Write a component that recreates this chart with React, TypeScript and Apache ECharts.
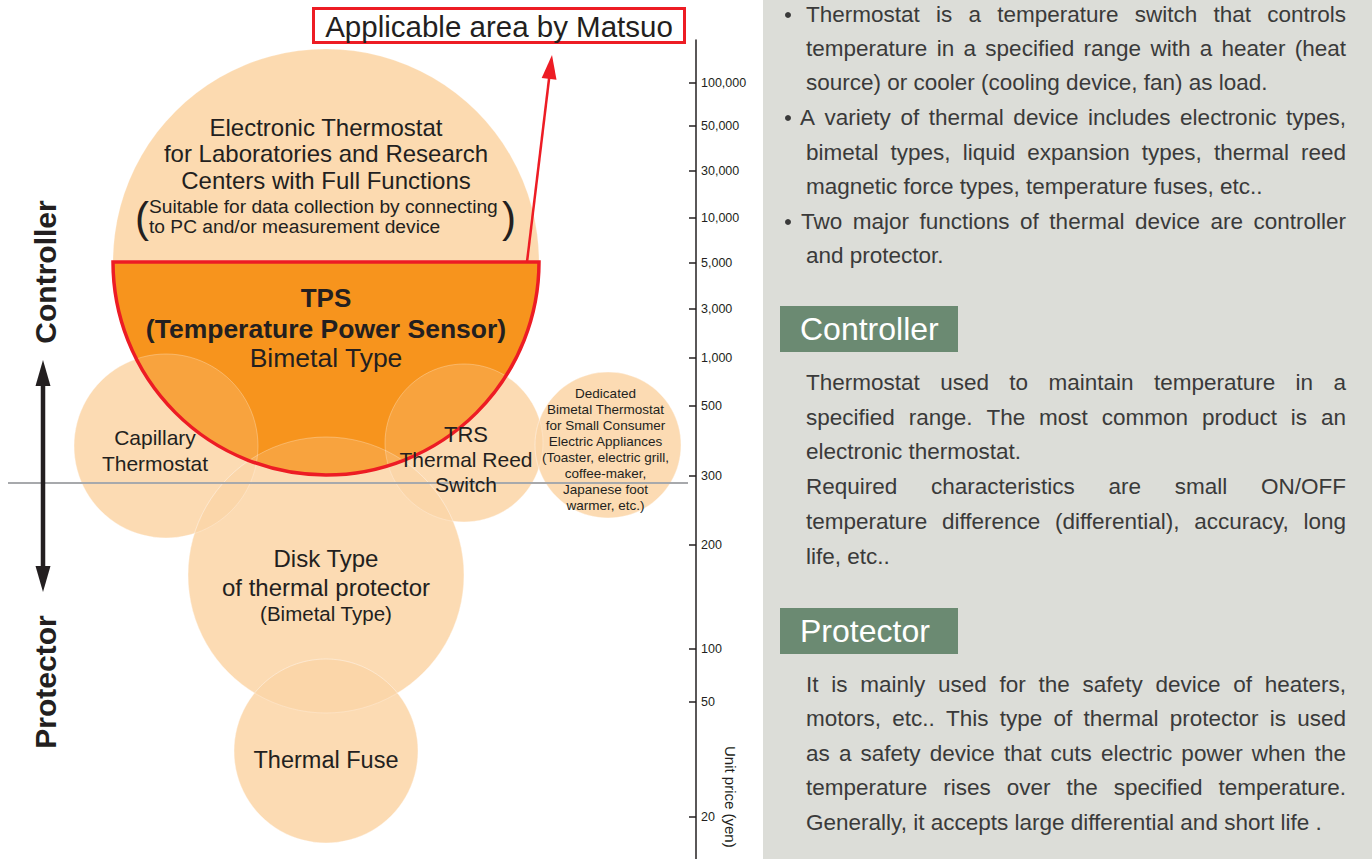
import React, { useEffect, useRef } from 'react';
import * as echarts from 'echarts';

// ---------- Data ----------
// schematic unit-price scale (levels are positions on the chart's price scale)
const priceTickLabels = ['100,000', '50,000', '30,000', '10,000', '5,000', '3,000', '1,000', '500', '300', '200', '100', '50', '20'];
const priceTickLevels = [776, 733, 688, 641, 596, 550, 501, 453, 383, 314, 210, 157, 42];

// device bubbles: horizontal category position, price level, radius (in scale units)
const bubbleNames = ['Electronic Thermostat', 'Capillary Thermostat', 'TRS', 'Dedicated Bimetal Thermostat', 'Disk Type', 'Thermal Fuse'];
const bubbleX = [326, 166, 464, 608, 326, 326];
const bubbleLevel = [597, 413, 416, 414, 284, 108];
const bubbleRadius = [213, 92, 79, 73, 138, 92];

// TPS (applicable area) – lower half of the electronic thermostat bubble
const tpsX = [326];
const tpsLevel = [597];
const tpsRadius = [213];

const introBullets = [
  ['Thermostat is a temperature switch that controls', 'temperature in a specified range with a heater (heat', 'source) or cooler (cooling device, fan) as load.'],
  ['A variety of thermal device includes electronic types,', 'bimetal types, liquid expansion types, thermal reed', 'magnetic force types, temperature fuses, etc..'],
  ['Two major functions of thermal device are controller', 'and protector.'],
];
const controllerLines = [
  'Thermostat used to maintain temperature in a',
  'specified range. The most common product is an',
  'electronic thermostat.',
  'Required characteristics are small ON/OFF',
  'temperature difference (differential), accuracy, long',
  'life, etc..',
];
const controllerJustify = [true, true, false, true, true, false];
const protectorLines = [
  'It is mainly used for the safety device of heaters,',
  'motors, etc.. This type of thermal protector is used',
  'as a safety device that cuts electric power when the',
  'temperature rises over the specified temperature.',
  'Generally, it accepts large differential and short life .',
];
const protectorJustify = [true, true, true, true, false];

// ---------- Styles ----------
const FONT = '"Liberation Sans", Arial, Helvetica, sans-serif';
const DARK = '#231f20';
const PANEL_TEXT = '#3a3a3a';
const PANEL_SIZE = 22.5;

let measureCtx: CanvasRenderingContext2D | null = null;
function measure(text: string, font: string) {
  if (!measureCtx) measureCtx = document.createElement('canvas').getContext('2d');
  measureCtx!.font = font;
  return measureCtx!.measureText(text).width;
}

function T(text: string, x: number, y: number, size: number, opts: any = {}) {
  const align = opts.align || 'center';
  return {
    type: 'text',
    x,
    y,
    z: 20,
    rotation: opts.rotation || 0,
    scaleX: opts.scaleX || 1,
    style: {
      text,
      x: 0,
      y: 0,
      font: `${opts.weight || 'normal'} ${size}px ${opts.family || FONT}`,
      fill: opts.fill || DARK,
      textAlign: align,
      align,
      textVerticalAlign: 'middle',
      verticalAlign: 'middle',
    },
  };
}

function panelLine(text: string, x0: number, x1: number, y: number, justify: boolean) {
  const font = `normal ${PANEL_SIZE}px ${FONT}`;
  const avail = x1 - x0;
  const natural = measure(text, font);
  const words = text.split(' ');
  if (!justify || words.length < 2) {
    const s = natural > avail ? avail / natural : 1;
    return [T(text, x0, y, PANEL_SIZE, { align: 'left', fill: PANEL_TEXT, scaleX: s })];
  }
  const ws = words.map((w) => measure(w, font));
  const sum = ws.reduce((a, b) => a + b, 0);
  const gap = (avail - sum) / (words.length - 1);
  const spaceW = measure(' ', font);
  if (gap < spaceW * 0.7) {
    return [T(text, x0, y, PANEL_SIZE, { align: 'left', fill: PANEL_TEXT, scaleX: avail / natural })];
  }
  const out: any[] = [];
  let cx = x0;
  words.forEach((w, i) => {
    out.push(T(w, cx, y, PANEL_SIZE, { align: 'left', fill: PANEL_TEXT }));
    cx += ws[i] + gap;
  });
  return out;
}

function buildOption() {
  const bubbleData = bubbleX.map((x, i) => ({ name: bubbleNames[i], value: [x, bubbleLevel[i], bubbleRadius[i]] }));
  const overlayData = bubbleData.slice(1);
  const tpsData = tpsX.map((x, i) => [x, tpsLevel[i], tpsRadius[i]]);

  const circleItem = (fill: string, stroke: string) => (params: any, api: any) => {
    const c = api.coord([api.value(0), api.value(1)]);
    const r = api.size([api.value(2), 0])[0];
    return { type: 'circle', shape: { cx: c[0], cy: c[1], r }, style: { fill, stroke, lineWidth: 0.8 } };
  };
  const halfItem = (style: any) => (params: any, api: any) => {
    const c = api.coord([api.value(0), api.value(1)]);
    const r = api.size([api.value(2), 0])[0];
    return {
      type: 'sector',
      shape: { cx: c[0], cy: c[1], r0: 0, r, startAngle: 0, endAngle: Math.PI, clockwise: true },
      style,
    };
  };

  const graphics: any[] = [];

  // right panel background
  graphics.push({ type: 'rect', z: 0, shape: { x: 763, y: 0, width: 609, height: 859 }, style: { fill: '#dcddd8' } });

  // intro bullets
  const bulletYs = [[14, 48, 82], [117, 152, 186], [221, 255]];
  const firstX = [806, 800, 801];
  introBullets.forEach((lines, b) => {
    graphics.push({ type: 'circle', z: 20, shape: { cx: 788, cy: bulletYs[b][0] + 1, r: 3 }, style: { fill: PANEL_TEXT } });
    lines.forEach((ln, i) => {
      const last = i === lines.length - 1;
      graphics.push(...panelLine(ln, i === 0 ? firstX[b] : 806, 1346, bulletYs[b][i], !last));
    });
  });

  // section headers
  graphics.push({ type: 'rect', z: 5, shape: { x: 780, y: 306, width: 178, height: 46 }, style: { fill: '#6b8a72' } });
  graphics.push(T('Controller', 800, 329, 32, { align: 'left', fill: '#ffffff' }));
  graphics.push({ type: 'rect', z: 5, shape: { x: 780, y: 608, width: 178, height: 46 }, style: { fill: '#6b8a72' } });
  graphics.push(T('Protector', 800, 631, 32, { align: 'left', fill: '#ffffff' }));

  const ctrlYs = [382, 417, 451, 486, 521, 556];
  controllerLines.forEach((ln, i) => graphics.push(...panelLine(ln, 806, 1346, ctrlYs[i], controllerJustify[i])));
  const protYs = [684, 718, 753, 787, 822];
  protectorLines.forEach((ln, i) => graphics.push(...panelLine(ln, 806, 1346, protYs[i], protectorJustify[i])));

  // divider line (controller / protector)
  graphics.push({ type: 'line', z: 10, shape: { x1: 8, y1: 483, x2: 688, y2: 483 }, style: { stroke: '#a7a9ac', lineWidth: 2 } });

  // title box + arrow
  graphics.push({ type: 'rect', z: 10, shape: { x: 313.5, y: 8.5, width: 371, height: 34 }, style: { fill: '#ffffff', stroke: '#ed1c24', lineWidth: 3 } });
  graphics.push(T('Applicable area by Matsuo', 499, 26, 29.5));
  graphics.push({ type: 'line', z: 10, shape: { x1: 527, y1: 262, x2: 549.5, y2: 75 }, style: { stroke: '#ed1c24', lineWidth: 2.5 } });
  graphics.push({ type: 'polygon', z: 10, shape: { points: [[552, 55], [556.5, 79.7], [541.7, 77.9]] }, style: { fill: '#ed1c24' } });

  // left side labels and double arrow
  graphics.push(T('Controller', 45, 272, 30, { rotation: Math.PI / 2, weight: 'bold' }));
  graphics.push(T('Protector', 45, 682, 30, { rotation: Math.PI / 2, weight: 'bold' }));
  graphics.push({ type: 'line', z: 10, shape: { x1: 43, y1: 380, x2: 43, y2: 572 }, style: { stroke: DARK, lineWidth: 4.5 } });
  graphics.push({ type: 'polygon', z: 10, shape: { points: [[43, 360], [35.5, 386], [50.5, 386]] }, style: { fill: DARK } });
  graphics.push({ type: 'polygon', z: 10, shape: { points: [[43, 592], [35.5, 566], [50.5, 566]] }, style: { fill: DARK } });

  // axis name
  graphics.push(T('Unit price (yen)', 730, 746, 15, { rotation: -Math.PI / 2, align: 'left' }));

  // bubble labels
  graphics.push(T('Electronic Thermostat', 326, 127, 24));
  graphics.push(T('for Laboratories and Research', 326, 153, 24));
  graphics.push(T('Centers with Full Functions', 326, 180, 24));
  graphics.push(T('Suitable for data collection by connecting', 149, 206, 19.2, { align: 'left' }));
  graphics.push(T('to PC and/or measurement device', 149, 226, 19.2, { align: 'left' }));
  graphics.push(T('(', 142, 217, 42));
  graphics.push(T(')', 509, 217, 42));

  graphics.push(T('TPS', 326, 298, 26, { weight: 'bold' }));
  graphics.push(T('(Temperature Power Sensor)', 326, 329, 26.5, { weight: 'bold' }));
  graphics.push(T('Bimetal Type', 326, 358, 26.5));

  graphics.push(T('Capillary', 155, 437, 21));
  graphics.push(T('Thermostat', 155, 463, 21));

  graphics.push(T('TRS', 466, 434, 22));
  graphics.push(T('Thermal Reed', 466, 459, 21));
  graphics.push(T('Switch', 466, 484, 21));

  const dedicated = ['Dedicated', 'Bimetal Thermostat', 'for Small Consumer', 'Electric Appliances', '(Toaster, electric grill,', 'coffee-maker,', 'Japanese foot', 'warmer, etc.)'];
  dedicated.forEach((ln, i) => graphics.push(T(ln, 605.5, 393 + i * 16, 13.5)));

  graphics.push(T('Disk Type', 326, 558, 24));
  graphics.push(T('of thermal protector', 326, 587, 24));
  graphics.push(T('(Bimetal Type)', 326, 613, 20.5));

  graphics.push(T('Thermal Fuse', 326, 760, 23.5));

  return {
    animation: false,
    backgroundColor: '#ffffff',
    grid: { left: 0, top: 40, width: 696, height: 819, containLabel: false, outerBoundsMode: 'none' },
    xAxis: { type: 'value', min: 0, max: 696, show: false },
    yAxis: {
      type: 'value',
      min: 0,
      max: 819,
      position: 'right',
      axisLine: { show: true, onZero: false, lineStyle: { color: DARK, width: 1.5 } },
      axisTick: { show: true, inside: true, length: 7, customValues: priceTickLevels, lineStyle: { color: DARK, width: 1.5 } },
      axisLabel: {
        show: true,
        customValues: priceTickLevels,
        margin: 5,
        fontSize: 12.5,
        fontFamily: FONT,
        color: DARK,
        formatter: (v: number) => {
          const i = priceTickLevels.findIndex((l) => Math.abs(l - v) < 0.5);
          return i >= 0 ? priceTickLabels[i] : '';
        },
      },
      splitLine: { show: false },
    },
    series: [
      {
        type: 'custom',
        name: 'devices',
        z: 1,
        clip: false,
        data: bubbleData,
        renderItem: circleItem('rgba(251,205,150,0.75)', 'rgba(255,255,255,0.25)'),
      },
      {
        type: 'custom',
        name: 'TPS',
        z: 2,
        clip: false,
        data: tpsData,
        renderItem: halfItem({ fill: '#f7941d' }),
      },
      {
        type: 'custom',
        name: 'devices overlay',
        z: 3,
        clip: false,
        silent: true,
        data: overlayData,
        renderItem: circleItem('rgba(253,226,195,0.2)', 'rgba(255,255,255,0.35)'),
      },
      {
        type: 'custom',
        name: 'TPS outline',
        z: 4,
        clip: false,
        data: tpsData,
        renderItem: halfItem({ fill: 'none', stroke: '#ed1c24', lineWidth: 3.5 }),
      },
    ],
    graphic: { elements: graphics },
  };
}

export default function App() {
  const ref = useRef<HTMLDivElement>(null);
  useEffect(() => {
    const chart = echarts.init(ref.current!, null, { renderer: 'svg' });
    chart.setOption(buildOption() as any);
    return () => chart.dispose();
  }, []);
  return (
    <div style={{ position: 'fixed', left: 0, top: 0, width: 1372, height: 859, background: '#ffffff' }}>
      <div ref={ref} style={{ width: 1372, height: 859 }} />
    </div>
  );
}
